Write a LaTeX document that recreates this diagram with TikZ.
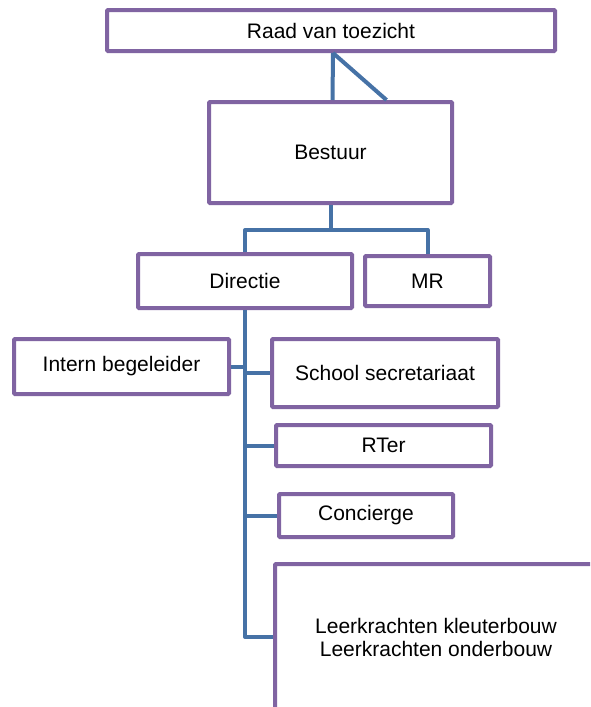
\documentclass[tikz,border=0pt]{standalone}
\usepackage{fontspec}
\setmainfont{Liberation Sans}
\definecolor{boxpurple}{RGB}{128,100,162}
\definecolor{linkblue}{RGB}{70,114,166}
\begin{document}
\begin{tikzpicture}[x=1pt,y=-1pt,
  box/.style={draw=boxpurple,line width=4pt,fill=white,rounded corners=1pt,
    inner sep=0pt,align=center,font=\fontsize{21}{23}\selectfont},
  link/.style={draw=linkblue,line width=4pt,line join=round}]
\useasboundingbox (0,0) rectangle (590,707);
\clip (0,0) rectangle (590,707);
\fill[white] (0,0) rectangle (590,707);
\node[box,minimum width=448pt,minimum height=41pt] (raad) at (331,30.5) {Raad van toezicht};
\node[box,minimum width=243pt,minimum height=101pt] (bestuur) at (330.5,152.5) {Bestuur};
\node[box,minimum width=214pt,minimum height=54pt] (directie) at (245,281) {Directie};
\node[box,minimum width=125pt,minimum height=50pt] (mr) at (427.5,281) {MR};
\node[box,minimum width=215pt,minimum height=55pt] (ib) at (121.5,366.5) {Intern begeleider};
\node[box,minimum width=226pt,minimum height=68pt] (sec) at (385,373) {School secretariaat};
\node[box,minimum width=215pt,minimum height=41pt] (rter) at (383.5,445.5) {RTer};
\node[box,minimum width=174pt,minimum height=43pt] (conc) at (366,515.5) {Concierge};
\node[box,minimum width=322pt,minimum height=146pt] (leer) at (436,637) {Leerkrachten kleuterbouw\\Leerkrachten onderbouw};
\coordinate (j) at (330.5,230);
\coordinate (t) at (245,637);
\draw[link] ([xshift=2pt]raad.south) -- ([xshift=2pt]bestuur.north);
\draw[link] ([xshift=2pt]raad.south) -- ([xshift=56pt]bestuur.north);
\draw[link] (bestuur.south) -- (j);
\draw[link] (directie.north) |- (j) -| (mr.north);
\draw[link] (directie.south) -- (t) -- (leer.west);
\draw[link] (ib.east) -- (ib.east -| t);
\draw[link] (sec.west) -- (sec.west -| t);
\draw[link] (rter.west) -- (rter.west -| t);
\draw[link] (conc.west) -- (conc.west -| t);
\end{tikzpicture}
\end{document}
